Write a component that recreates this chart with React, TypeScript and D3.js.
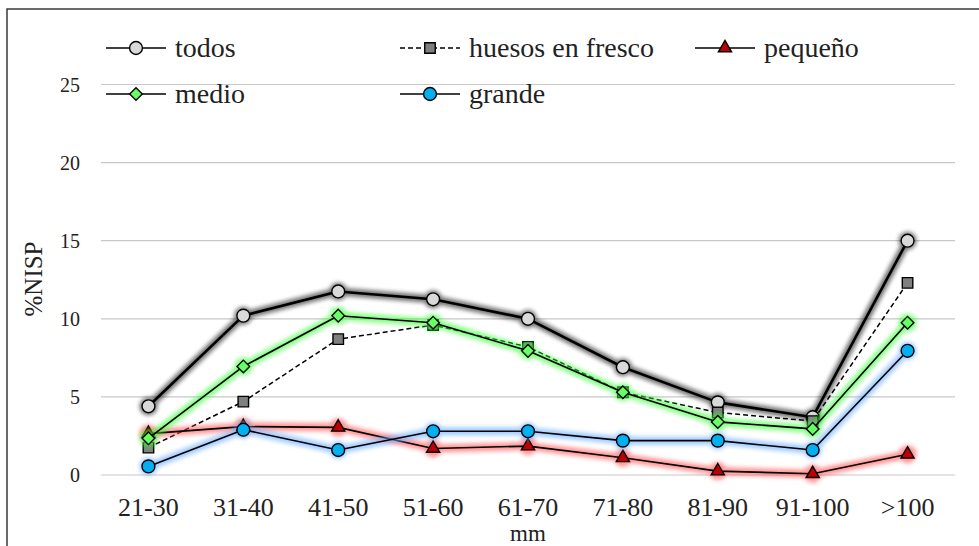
import React from 'react'
import * as d3 from 'd3'

// categorías (mm)
const categories = ['21-30', '31-40', '41-50', '51-60', '61-70', '71-80', '81-90', '91-100', '>100']
const yTicks = [0, 5, 10, 15, 20, 25]

// %NISP por serie
const todos = [4.4, 10.2, 11.75, 11.25, 10.0, 6.9, 4.65, 3.7, 15.0]
const huesosFresco = [1.75, 4.7, 8.7, 9.6, 8.2, 5.3, 4.0, 3.45, 12.3]
const pequeno = [2.65, 3.1, 3.05, 1.7, 1.85, 1.1, 0.25, 0.08, 1.33]
const medio = [2.35, 6.95, 10.2, 9.75, 7.95, 5.3, 3.4, 2.95, 9.75]
const grande = [0.55, 2.9, 1.6, 2.8, 2.8, 2.2, 2.2, 1.6, 7.95]

type Shape = 'circle' | 'square' | 'triangle' | 'diamond'
interface Serie {
  name: string
  values: number[]
  fill: string
  glow: string | null
  shape: Shape
  width: number
  dash?: string
}

const series: Serie[] = [
  { name: 'todos', values: todos, fill: '#d9d9d9', glow: '#000000', shape: 'circle', width: 2.6 },
  { name: 'huesos en fresco', values: huesosFresco, fill: '#7f7f7f', glow: null, shape: 'square', width: 1.5, dash: '5,3' },
  { name: 'pequeño', values: pequeno, fill: '#c00000', glow: '#ff4d4d', shape: 'triangle', width: 1.6 },
  { name: 'medio', values: medio, fill: '#66ff66', glow: '#33ff33', shape: 'diamond', width: 1.6 },
  { name: 'grande', values: grande, fill: '#00b0f0', glow: '#66aaff', shape: 'circle', width: 1.6 },
]

const legendPos = [
  { x: 106, y: 48 },
  { x: 400, y: 48 },
  { x: 695, y: 48 },
  { x: 106, y: 94 },
  { x: 400, y: 94 },
]

const W = 979
const H = 546
const plot = { left: 101, right: 955, top: 84.5, bottom: 475 }

const font = '"Liberation Serif", "Times New Roman", serif'

const symbolPath = (shape: Shape) => {
  if (shape === 'square') return d3.symbol(d3.symbolSquare, 110)()
  if (shape === 'triangle') return d3.symbol(d3.symbolTriangle, 75)()
  if (shape === 'diamond') return d3.symbol(d3.symbolSquare, 80)()
  return d3.symbol(d3.symbolCircle, 130)()
}

const Marker = ({ s, x, y }: { s: Serie; x: number; y: number }) => (
  <path
    d={symbolPath(s.shape) || ''}
    transform={`translate(${x},${y})${s.shape === 'diamond' ? ' rotate(45)' : ''}`}
    fill={s.fill}
    stroke="#000"
    strokeWidth={1.4}
  />
)

export default function App() {
  const x = d3.scaleBand<string>().domain(categories).range([plot.left, plot.right])
  const y = d3.scaleLinear().domain([0, 25]).range([plot.bottom, plot.top])
  const cx = (c: string) => (x(c) ?? 0) + x.bandwidth() / 2

  const line = d3
    .line<number>()
    .x((_, i) => cx(categories[i]))
    .y(d => y(d))

  return (
    <svg width={W} height={H} style={{ position: 'absolute', left: 0, top: 0, background: '#fff' }} fontFamily={font}>
      <defs>
        <filter id="glow" x="-10%" y="-10%" width="120%" height="120%">
          <feGaussianBlur stdDeviation="2" />
        </filter>
      </defs>
      <rect x={0} y={0} width={W} height={H} fill="#fff" />
      <rect x={7} y={9} width={W} height={H} fill="none" stroke="#3a3a3a" strokeWidth={1.5} />

      {/* rejilla */}
      {yTicks.map(t => (
        <g key={t}>
          <line x1={plot.left} x2={plot.right} y1={y(t)} y2={y(t)} stroke="#c8c8c8" strokeWidth={1.2} />
          <text x={80} y={y(t)} dy="0.35em" textAnchor="end" fontSize={20} fill="#222">
            {t}
          </text>
        </g>
      ))}

      {categories.map(c => (
        <text key={c} x={cx(c)} y={516} textAnchor="middle" fontSize={26} fill="#222">
          {c}
        </text>
      ))}
      <text x={cx('61-70')} y={541} textAnchor="middle" fontSize={23} fill="#222">
        mm
      </text>
      <text transform="translate(42,279) rotate(-90)" textAnchor="middle" fontSize={25} fill="#222">
        %NISP
      </text>

      {/* series */}
      {series.map(s => (
        <g key={s.name}>
          {s.glow && (
            <g filter="url(#glow)" opacity={s.name === 'todos' ? 0.55 : 0.6}>
              <path d={line(s.values) || ''} fill="none" stroke={s.glow} strokeWidth={8} strokeLinejoin="round" />
              {s.values.map((v, i) => (
                <circle key={i} cx={cx(categories[i])} cy={y(v)} r={9} fill={s.glow} />
              ))}
            </g>
          )}
          <path
            d={line(s.values) || ''}
            fill="none"
            stroke="#000"
            strokeWidth={s.width}
            strokeDasharray={s.dash}
            strokeLinejoin="round"
          />
          {s.values.map((v, i) => (
            <Marker key={i} s={s} x={cx(categories[i])} y={y(v)} />
          ))}
        </g>
      ))}

      {/* leyenda */}
      {series.map((s, i) => {
        const p = legendPos[i]
        return (
          <g key={s.name} transform={`translate(${p.x},${p.y})`}>
            <line x1={0} x2={60} y1={0} y2={0} stroke="#000" strokeWidth={1.3} strokeDasharray={s.dash} />
            <Marker s={s} x={30} y={0} />
            <text x={69} y={0} dy="0.32em" fontSize={28} fill="#222">
              {s.name}
            </text>
          </g>
        )
      })}
    </svg>
  )
}
